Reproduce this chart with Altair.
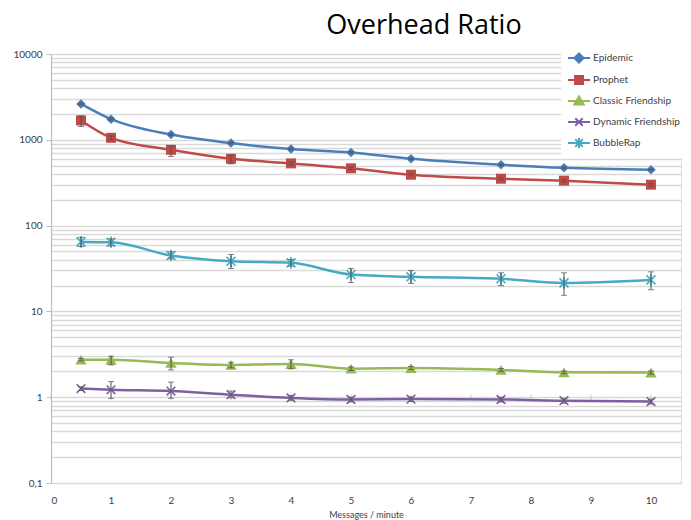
import altair as alt
import pandas as pd

# ---------------- data ----------------
series_names = ["Epidemic", "Prophet", "Classic Friendship", "Dynamic Friendship", "BubbleRap"]
x_vals = [0.5, 1, 2, 3, 4, 5, 6, 7.5, 8.55, 10]

epidemic = [2620, 1740, 1150, 915, 780, 712, 600, 512, 472, 448]
epidemic_lo = [2560, 1700, 1120, 895, 765, 698, 588, 502, 462, 440]
epidemic_hi = [2680, 1780, 1180, 935, 795, 726, 612, 522, 482, 456]

prophet = [1680, 1055, 765, 601, 531, 465, 392, 352, 334, 300]
prophet_lo = [1430, 1000, 640, 525, 510, 450, 380, 342, 324, 290]
prophet_hi = [1900, 1110, 840, 660, 550, 480, 404, 362, 344, 310]

classic = [2.74, 2.73, 2.51, 2.38, 2.44, 2.15, 2.19, 2.08, 1.95, 1.94]
classic_lo = [2.65, 2.38, 2.08, 2.20, 2.14, 2.05, 2.10, 2.00, 1.88, 1.86]
classic_hi = [2.83, 3.00, 2.93, 2.55, 2.73, 2.25, 2.28, 2.16, 2.02, 2.02]

dynamic = [1.26, 1.22, 1.18, 1.07, 0.98, 0.94, 0.95, 0.94, 0.91, 0.89]
dynamic_lo = [1.20, 0.97, 0.97, 0.98, 0.92, 0.88, 0.89, 0.88, 0.85, 0.83]
dynamic_hi = [1.32, 1.52, 1.50, 1.18, 1.05, 1.00, 1.01, 1.00, 0.97, 0.95]

bubble = [64.6, 64, 44.8, 38.4, 36.8, 26.9, 25.3, 24, 21.5, 23.3]
bubble_lo = [57, 58, 41, 31.6, 33.7, 21.7, 21.2, 20, 15.4, 17.9]
bubble_hi = [73, 70, 49.4, 46, 40.3, 31.7, 30, 28.2, 28.2, 28.9]

colors = ["#4A7EBB", "#BE4B48", "#98B954", "#7D60A0", "#46AAC5"]

x_tick_values = list(range(0, 11))

# ---------------- table ----------------
values = [epidemic, prophet, classic, dynamic, bubble]
los = [epidemic_lo, prophet_lo, classic_lo, dynamic_lo, bubble_lo]
his = [epidemic_hi, prophet_hi, classic_hi, dynamic_hi, bubble_hi]
rows = []
for name, v, lo, hi in zip(series_names, values, los, his):
    for i, x in enumerate(x_vals):
        rows.append({"series": name, "x": x, "y": v[i], "lo": lo[i], "hi": hi[i]})
df = pd.DataFrame(rows)

grid_values = [round(m * 10 ** e, 6) for e in range(-1, 4) for m in range(1, 10)] + [10000]

is_decade = "abs(log(datum.value)/LN10 - round(log(datum.value)/LN10)) < 0.000001"

x_scale = alt.Scale(domain=[0, 10.5], nice=False, zero=False)
y_scale = alt.Scale(type="log", domain=[0.1, 10000], nice=False)

x_enc = alt.X("x:Q", scale=x_scale, title="Messages / minute",
              axis=alt.Axis(values=x_tick_values, grid=False, ticks=False, domain=False,
                            labelPadding=12, labelFontSize=10, labelColor="#404040",
                            titleFontSize=9, titleFontWeight="normal", titleColor="#404040",
                            titlePadding=5, labelFont="Lato", titleFont="Lato", format="d"))
y_enc = alt.Y("y:Q", scale=y_scale, title=None,
              axis=alt.Axis(values=grid_values, grid=True, gridColor="#D9D9D9", gridWidth=1.5,
                            domainColor="#BFBFBF", domainWidth=1.2,
                            tickColor="#BFBFBF", tickSize=5,
                            tickOpacity={"condition": {"test": is_decade, "value": 1}, "value": 0},
                            labelExpr="(abs(log(datum.value)/LN10 - round(log(datum.value)/LN10)) < 0.000001) ? (datum.value < 1 ? '0,1' : format(datum.value, 'd')) : ''",
                            labelFontSize=10, labelColor="#404040", labelFont="Lato",
                            labelPadding=4))

base = alt.Chart(df)

line_layers = []
for name, col in zip(series_names, colors):
    line_layers.append(base.transform_filter(alt.datum.series == name).mark_line(
        interpolate="monotone", strokeWidth=2.5, color=col).encode(x=x_enc, y=y_enc))

x_tick_df = pd.DataFrame({"x": x_tick_values, "y": [1] * len(x_tick_values)})
axis_ticks = alt.Chart(x_tick_df).mark_tick(orient="vertical", size=6, thickness=1, color="#BFBFBF").encode(
    x=alt.X("x:Q", scale=x_scale), y=alt.Y("y:Q", scale=y_scale))

shape_paths = {
    "Epidemic": "diamond",
    "Prophet": "square",
    "Classic Friendship": "triangle-up",
    "Dynamic Friendship": "M-1,-1L1,1M-1,1L1,-1",
    "BubbleRap": "M-1,-1L1,1M-1,1L1,-1M0,-1.3L0,1.3",
}
marker_sizes = {"Epidemic": 90, "Prophet": 100, "Classic Friendship": 130,
                "Dynamic Friendship": 75, "BubbleRap": 80}

marker_layers = []
for name, col in zip(series_names, colors):
    filled = name in ("Epidemic", "Prophet", "Classic Friendship")
    m = base.transform_filter(alt.datum.series == name).mark_point(
        shape=shape_paths[name], size=marker_sizes[name], filled=filled,
        color=col, opacity=1, strokeWidth=1.6).encode(x=x_enc, y=y_enc)
    marker_layers.append(m)

err_color = "#505050"
err_rule = base.mark_rule(color=err_color, strokeWidth=1).encode(
    x=x_enc, y=alt.Y("lo:Q", scale=y_scale), y2="hi:Q")
cap_lo = base.mark_tick(orient="horizontal", size=6, thickness=1, color=err_color).encode(
    x=x_enc, y=alt.Y("lo:Q", scale=y_scale))
cap_hi = base.mark_tick(orient="horizontal", size=6, thickness=1, color=err_color).encode(
    x=x_enc, y=alt.Y("hi:Q", scale=y_scale))

legend_paths = [
    "M-1,0L1,0M0,-0.42L0.42,0L0,0.42L-0.42,0Z",
    "M-1,0L1,0M-0.36,-0.36L0.36,-0.36L0.36,0.36L-0.36,0.36Z",
    "M-1,0L1,0M0,-0.4L0.42,0.32L-0.42,0.32Z",
    "M-1,0L1,0M-0.34,-0.34L0.34,0.34M-0.34,0.34L0.34,-0.34",
    "M-1,0L1,0M-0.34,-0.34L0.34,0.34M-0.34,0.34L0.34,-0.34M0,-0.45L0,0.45",
]
leg = alt.Legend(title=None, orient="none", legendX=510, legendY=-14,
                 fillColor="white", padding=6, labelFontSize=10, labelColor="#404040",
                 labelFont="Lato", symbolSize=484, symbolStrokeWidth=2, rowPadding=1,
                 labelOffset=2)
# legend-only layer: its points are pushed outside the plot and clipped away
legend_layer = base.transform_calculate(off="1e9").mark_point(
    size=484, filled=True, opacity=1, clip=True).encode(
    x=x_enc, y=alt.Y("off:Q", scale=y_scale),
    color=alt.Color("series:N", scale=alt.Scale(domain=series_names, range=colors), legend=leg),
    stroke=alt.Stroke("series:N", scale=alt.Scale(domain=series_names, range=colors), legend=leg),
    shape=alt.Shape("series:N", scale=alt.Scale(domain=series_names, range=legend_paths), legend=leg),
)

chart = alt.layer(axis_ticks, *line_layers, *marker_layers, err_rule, cap_lo, cap_hi, legend_layer).properties(
    width=630, height=429,
    title=alt.TitleParams("Overhead Ratio", fontSize=27, font="Open Sans", fontWeight="normal",
                          color="#000000", anchor="middle", dx=58, offset=0),
    autosize=alt.AutoSizeParams(type="none"),
    padding={"left": 43, "top": 46, "right": 2, "bottom": 37},
).configure_view(stroke=None).configure(background="white")

chart.save("out.html", embed_options={"renderer": "svg", "actions": False})
